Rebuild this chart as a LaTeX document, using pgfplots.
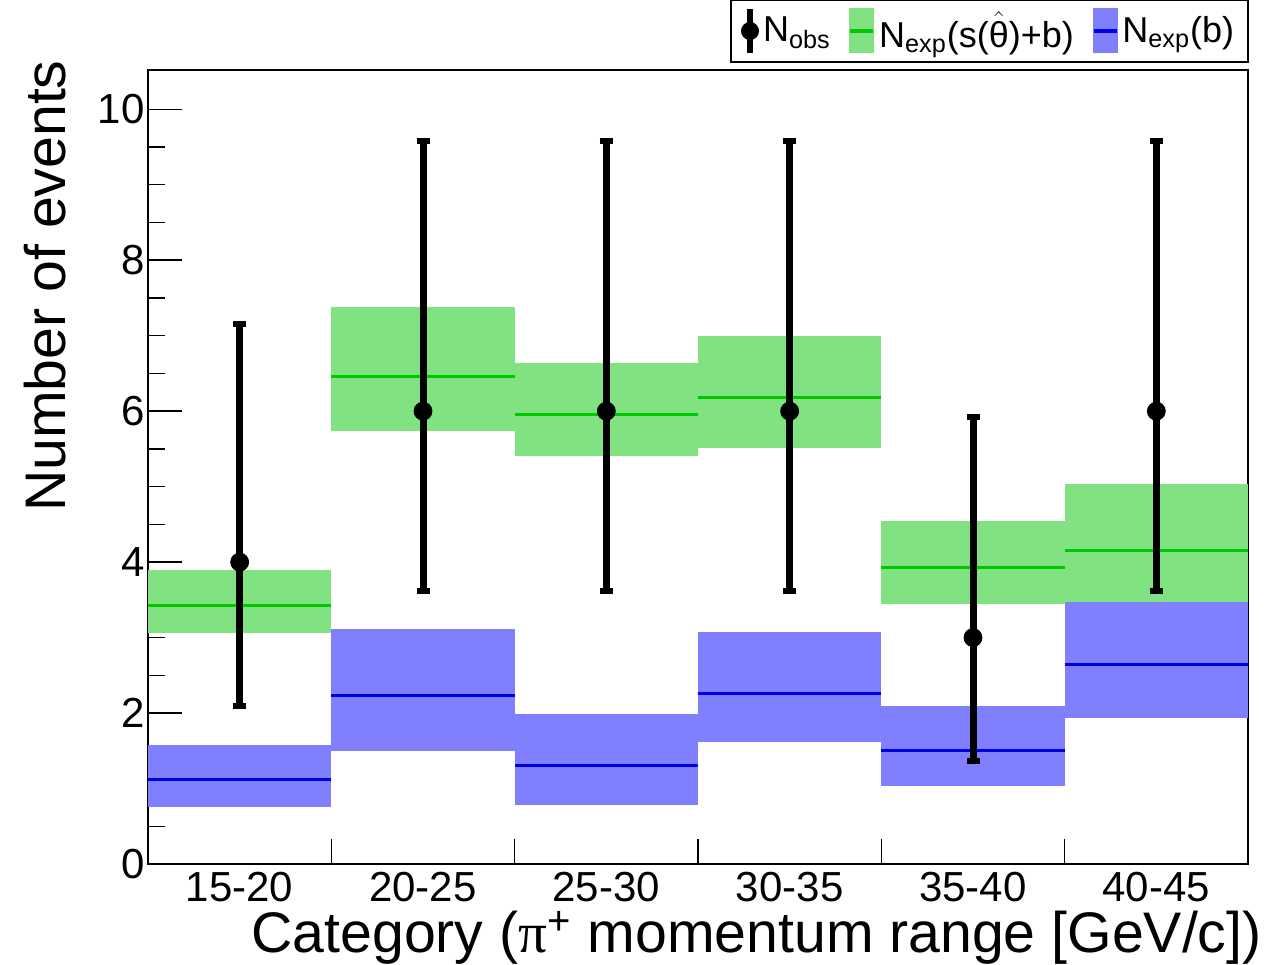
\documentclass[border=0pt]{standalone}
\usepackage{pgfplots}
\pgfplotsset{compat=1.18}
\usepackage{pgfplotstable}
\usepackage{amsmath}
\usepackage{fontspec}
\setmainfont{Liberation Sans}
\newfontfamily\serifpi{Liberation Serif}
\definecolor{gfill}{RGB}{128,226,128}
\definecolor{gline}{RGB}{0,200,0}
\definecolor{bfill}{RGB}{128,128,255}
\definecolor{bline}{RGB}{0,0,230}

\pgfplotstableread{
x lo hi mid
0 3.06 3.90 3.43
1 5.74 7.38 6.46
2 5.41 6.64 5.96
3 5.51 7.00 6.18
4 3.44 4.54 3.93
5 3.47 5.03 4.16
6 3.47 5.03 4.16
}\greentab

\pgfplotstableread{
x lo hi mid
0 0.76 1.58 1.12
1 1.50 3.12 2.23
2 0.78 1.99 1.30
3 1.61 3.07 2.26
4 1.04 2.10 1.50
5 1.93 3.47 2.64
6 1.93 3.47 2.64
}\bluetab

\begin{document}
\begin{tikzpicture}
\useasboundingbox (-74pt,-50pt) rectangle (565pt,432pt);
\begin{axis}[
  at={(0,0)}, anchor=south west,
  scale only axis, width=550pt, height=397pt,
  xmin=0, xmax=6, ymin=0, ymax=10.52,
  axis line style={line width=1pt},
  ytick={0,2,4,6,8,10},
  minor y tick num=3,
  ytick pos=left, xtick pos=bottom,
  tick align=inside,
  major tick length=17pt, minor tick length=8.5pt,
  xtick={0.5,1.5,2.5,3.5,4.5,5.5},
  xticklabels={15-20,20-25,25-30,30-35,35-40,40-45},
  y tick style={line width=0.7pt, black},
  x tick style={draw=none},
  extra x ticks={1,2,3,4,5},
  extra x tick labels={},
  extra x tick style={major tick length=12.5pt, x tick style={draw=black, line width=0.7pt}},
  /pgf/number format/assume math mode=true,
  ticklabel style={font=\fontsize{21}{25}\selectfont},
  yticklabel style={inner sep=1.5pt},
  xticklabel style={inner sep=4pt},
  xlabel={Category ({\serifpi π}\textsuperscript{+} momentum range [GeV/c])},
  ylabel={Number of events},
  label style={font=\fontsize{28.6}{32}\selectfont, inner sep=0pt},
  xlabel style={at={(axis description cs:1.0127,-0.093)}, anchor=east},
  ylabel style={at={(axis description cs:-0.094,1.0126)}, anchor=east},
  legend columns=3,
  legend style={at={(axis description cs:1.001,1.0)}, anchor=south east, yshift=3.5pt,
    draw=black, line width=1pt, font=\fontsize{18}{21}\selectfont,
    inner xsep=5pt, inner ysep=3pt,
    /tikz/every even column/.append style={column sep=7pt}},
  legend cell align=left,
]
% legend entries
\addlegendimage{legend image code/.code={
  \draw[black, line width=3pt] (0.15cm,-11pt) -- (0.15cm,11pt);
  \fill[black] (0.15cm,0cm) circle (4pt);}}
\addlegendentry{N\textsubscript{obs}}
\addlegendimage{legend image code/.code={
  \fill[gfill] (0cm,-10.75pt) rectangle (11.5pt,10.75pt);
  \draw[gline, line width=1.8pt] (0cm,0cm) -- (11.5pt,0cm);}}
\addlegendentry{N\textsubscript{exp}(s($\hat{\text{θ}}$)+b)}
\addlegendimage{legend image code/.code={
  \fill[bfill] (0cm,-10.75pt) rectangle (11.5pt,10.75pt);
  \draw[bline, line width=1.8pt] (0cm,0cm) -- (11.5pt,0cm);}}
\addlegendentry{N\textsubscript{exp}(b)}

% green bands
\addplot[fill=gfill, draw=none, forget plot] coordinates {(0,3.06) (1,3.06) (1,3.90) (0,3.90)} -- cycle;
\addplot[fill=gfill, draw=none, forget plot] coordinates {(1,5.74) (2,5.74) (2,7.38) (1,7.38)} -- cycle;
\addplot[fill=gfill, draw=none, forget plot] coordinates {(2,5.41) (3,5.41) (3,6.64) (2,6.64)} -- cycle;
\addplot[fill=gfill, draw=none, forget plot] coordinates {(3,5.51) (4,5.51) (4,7.00) (3,7.00)} -- cycle;
\addplot[fill=gfill, draw=none, forget plot] coordinates {(4,3.44) (5,3.44) (5,4.54) (4,4.54)} -- cycle;
\addplot[fill=gfill, draw=none, forget plot] coordinates {(5,3.47) (6,3.47) (6,5.03) (5,5.03)} -- cycle;
% blue bands
\addplot[fill=bfill, draw=none, forget plot] coordinates {(0,0.76) (1,0.76) (1,1.58) (0,1.58)} -- cycle;
\addplot[fill=bfill, draw=none, forget plot] coordinates {(1,1.50) (2,1.50) (2,3.12) (1,3.12)} -- cycle;
\addplot[fill=bfill, draw=none, forget plot] coordinates {(2,0.78) (3,0.78) (3,1.99) (2,1.99)} -- cycle;
\addplot[fill=bfill, draw=none, forget plot] coordinates {(3,1.61) (4,1.61) (4,3.07) (3,3.07)} -- cycle;
\addplot[fill=bfill, draw=none, forget plot] coordinates {(4,1.04) (5,1.04) (5,2.10) (4,2.10)} -- cycle;
\addplot[fill=bfill, draw=none, forget plot] coordinates {(5,1.93) (6,1.93) (6,3.47) (5,3.47)} -- cycle;
% center lines
\addplot[gline, line width=1.5pt, jump mark left, mark=none, forget plot] table[x=x, y=mid] {\greentab};
\addplot[bline, line width=1.5pt, jump mark left, mark=none, forget plot] table[x=x, y=mid] {\bluetab};
% observed
\addplot[black, only marks, mark=*, mark size=4.5pt, forget plot,
  error bars/.cd, y dir=both, y explicit,
  error bar style={line width=3.5pt, black},
  error mark=-, error mark options={rotate=90, line width=3pt, mark size=3.25pt, black}]
coordinates {
  (0.5,4) += (0,3.16) -= (0,1.91)
  (1.5,6) += (0,3.58) -= (0,2.38)
  (2.5,6) += (0,3.58) -= (0,2.38)
  (3.5,6) += (0,3.58) -= (0,2.38)
  (4.5,3) += (0,2.92) -= (0,1.63)
  (5.5,6) += (0,3.58) -= (0,2.38)
};
\end{axis}
\end{tikzpicture}
\end{document}
